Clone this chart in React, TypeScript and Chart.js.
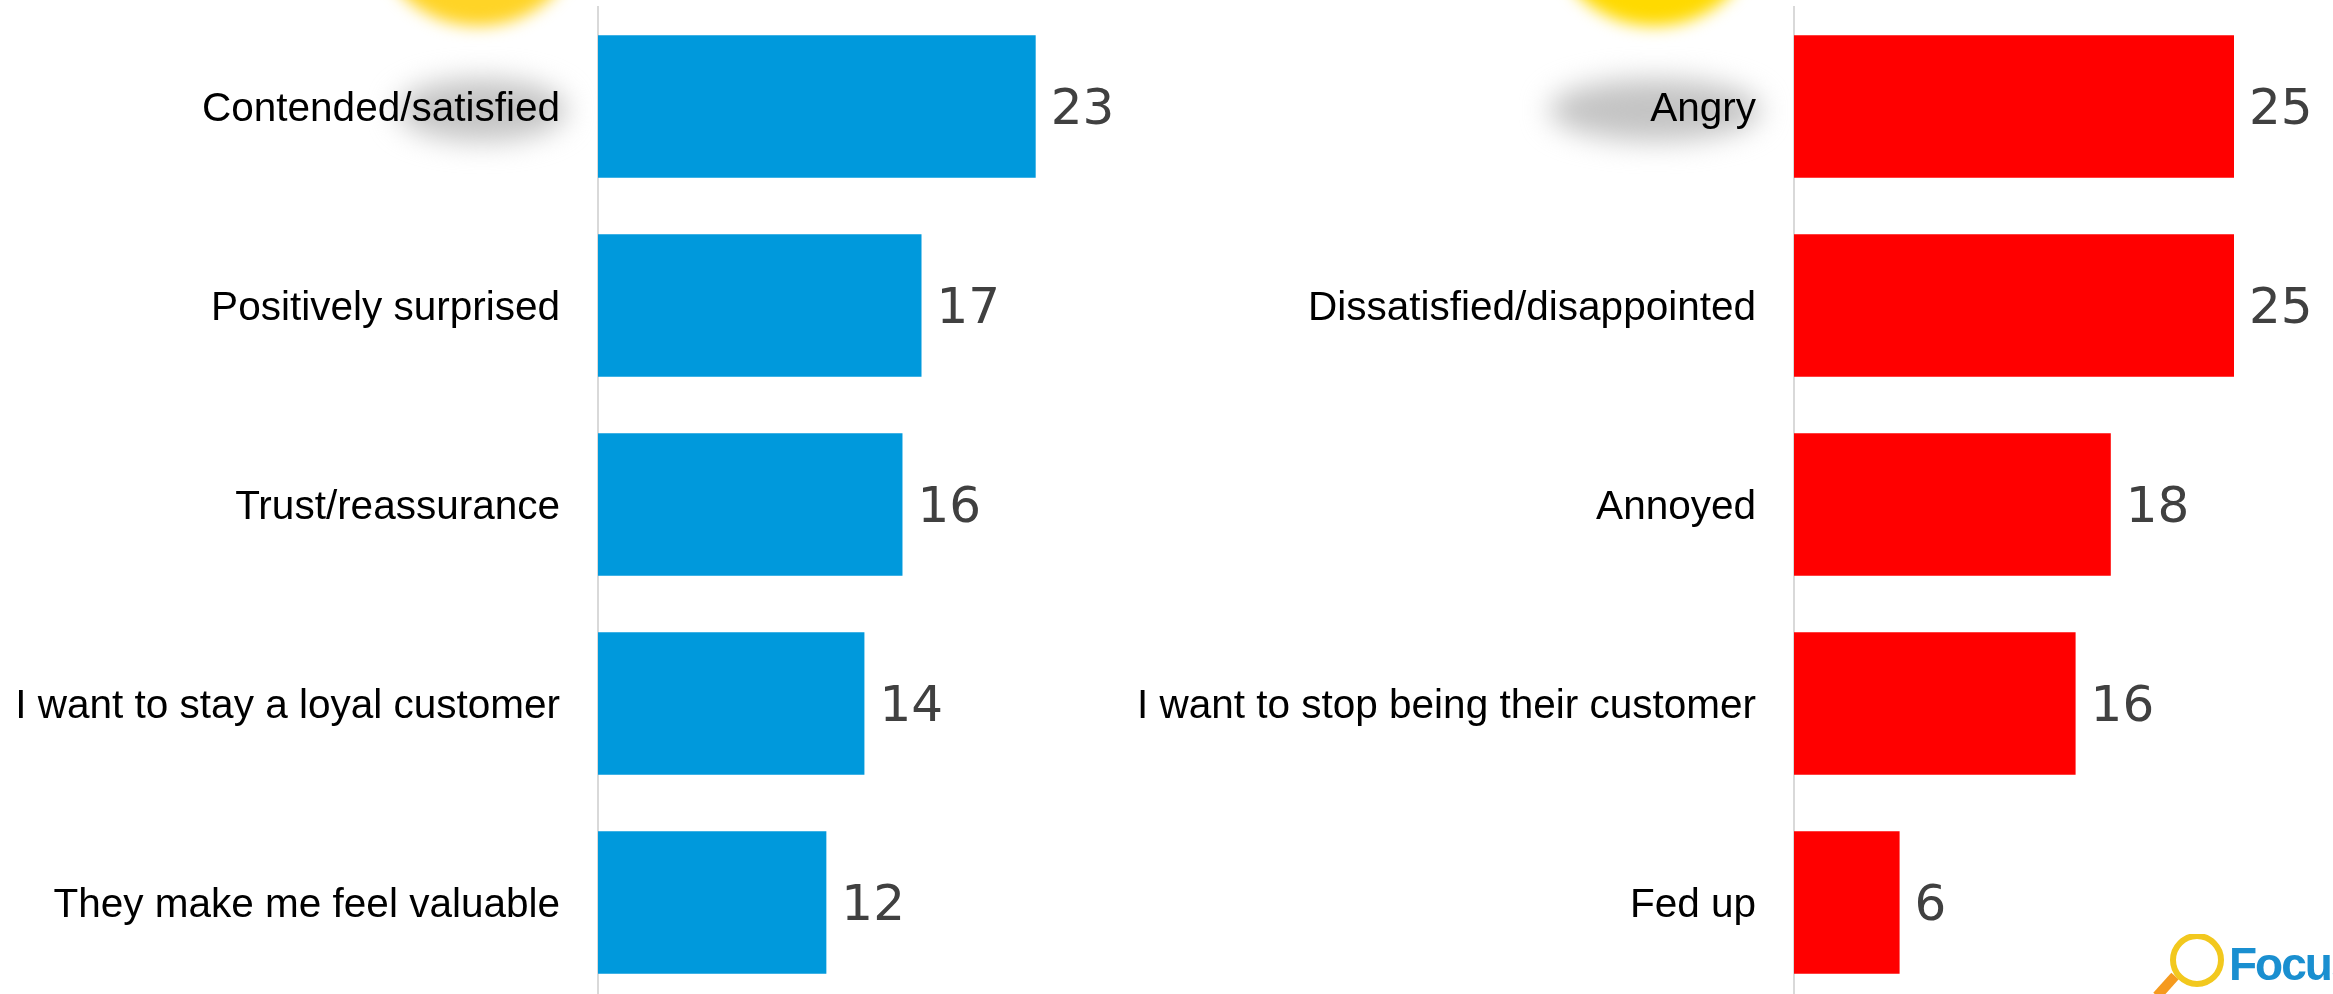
import React, { useEffect, useRef } from "react";
import { Chart, registerables } from "chart.js";

Chart.register(...registerables);

const positiveLabels = [
  "Contended/satisfied",
  "Positively surprised",
  "Trust/reassurance",
  "I want to stay a loyal customer",
  "They make me feel valuable",
];
const positiveValues = [23, 17, 16, 14, 12];

const negativeLabels = [
  "Angry",
  "Dissatisfied/disappointed",
  "Annoyed",
  "I want to stop being their customer",
  "Fed up",
];
const negativeValues = [25, 25, 18, 16, 6];

const AXIS_MAX = 30;

// Prints each bar's value just past its end.
const valueLabels = {
  id: "valueLabels",
  afterDatasetsDraw(chart: any) {
    const { ctx } = chart;
    const meta = chart.getDatasetMeta(0);
    const values = chart.data.datasets[0].data;
    ctx.save();
    ctx.font = '50px "DejaVu Sans"';
    ctx.fillStyle = "#404040";
    ctx.textAlign = "left";
    ctx.textBaseline = "middle";
    meta.data.forEach((bar: any, i: number) => {
      ctx.fillText(String(values[i]), bar.x + 15, bar.y + 5);
    });
    ctx.restore();
  },
};

type PanelProps = {
  left: number;
  width: number;
  axisX: number;
  plotWidth: number;
  labels: string[];
  values: number[];
  color: string;
};

function BarPanel({ left, width, axisX, plotWidth, labels, values, color }: PanelProps) {
  const ref = useRef<HTMLCanvasElement | null>(null);
  useEffect(() => {
    if (!ref.current) return;
    const chart = new Chart(ref.current, {
      type: "bar",
      data: {
        labels,
        datasets: [
          {
            data: values,
            backgroundColor: color,
            categoryPercentage: 1,
            barPercentage: 0.715,
          },
        ],
      },
      options: {
        indexAxis: "y",
        responsive: false,
        animation: false,
        layout: { padding: { top: 7, bottom: 8, right: width - axisX - plotWidth, left: 0 } },
        plugins: { legend: { display: false }, tooltip: { enabled: false } },
        scales: {
          x: { display: false, min: 0, max: AXIS_MAX, grid: { display: false } },
          y: {
            grid: { display: false, drawTicks: false },
            border: { color: "#d9d9d9", width: 2 },
            ticks: {
              color: "#000000",
              padding: 38,
              labelOffset: 3,
              font: { family: '"Liberation Sans"', size: 40.5 },
            },
            afterFit(scale: any) {
              // Fixed gutter for the labels, and no extra inset above or below the bands.
              scale.width = axisX;
              scale.paddingTop = 0;
              scale.paddingBottom = 0;
            },
          },
        },
      },
      plugins: [valueLabels],
    } as any);
    return () => chart.destroy();
  }, []);
  return (
    <canvas
      ref={ref}
      width={width}
      height={1010}
      style={{ position: "absolute", left, top: 0, width, height: 1010 }}
    />
  );
}

function Glow({ x, y, w, h, color, blur }: { x: number; y: number; w: number; h: number; color: string; blur: number }) {
  return (
    <div
      style={{
        position: "absolute",
        left: x - w / 2,
        top: y - h / 2,
        width: w,
        height: h,
        borderRadius: "50%",
        background: color,
        filter: `blur(${blur}px)`,
      }}
    />
  );
}

export default function App() {
  return (
    <div
      style={{
        position: "absolute",
        left: 0,
        top: 0,
        width: 2333,
        height: 994,
        overflow: "hidden",
        background: "#ffffff",
      }}
    >
      <Glow x={478} y={-64} w={200} h={180} color="#ffd426" blur={8} />
      <Glow x={1654} y={-64} w={200} h={180} color="#ffda00" blur={8} />
      <Glow x={482} y={110} w={170} h={62} color="#c4c4c4" blur={14} />
      <Glow x={1655} y={110} w={212} h={62} color="#c4c4c4" blur={14} />

      <BarPanel
        left={0}
        width={1170}
        axisX={598}
        plotWidth={19.03 * AXIS_MAX}
        labels={positiveLabels}
        values={positiveValues}
        color="#0099dc"
      />
      <BarPanel
        left={1100}
        width={1233}
        axisX={694}
        plotWidth={17.6 * AXIS_MAX}
        labels={negativeLabels}
        values={negativeValues}
        color="#ff0000"
      />

      {/* Company mark in the lower right corner */}
      <svg
        width={180}
        height={60}
        viewBox="0 0 180 60"
        style={{ position: "absolute", left: 2153, top: 934, filter: "blur(0.6px)" }}
      >
        <line x1={22} y1={42} x2={4} y2={62} stroke="#f59a1f" strokeWidth={10} />
        <circle cx={44} cy={26} r={24} fill="none" stroke="#f2c81e" strokeWidth={6} />
        <text
          x={76}
          y={46}
          fontFamily='"Liberation Sans"'
          fontWeight="bold"
          fontSize={46}
          letterSpacing={-2}
          fill="#1a8fd0"
        >
          Focus
        </text>
      </svg>
    </div>
  );
}
